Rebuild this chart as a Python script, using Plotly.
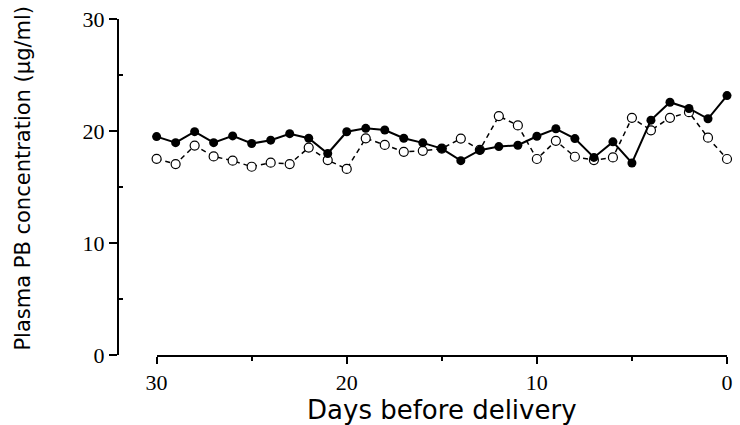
import plotly.graph_objects as go

days = list(range(30, -1, -1))
filled = [19.5, 18.96, 19.94, 18.96, 19.56, 18.88, 19.18, 19.76, 19.35, 17.99,
          19.93, 20.24, 20.09, 19.35, 18.94, 18.43, 17.35, 18.29, 18.61, 18.73,
          19.53, 20.2, 19.32, 17.64, 19.03, 17.14, 20.97, 22.57, 22.01, 21.09, 23.16]
opened = [17.52, 17.05, 18.7, 17.73, 17.35, 16.81, 17.17, 17.05, 18.52, 17.4,
          16.61, 19.35, 18.76, 18.14, 18.23, 18.43, 19.32, 18.32, 21.33, 20.5,
          17.5, 19.12, 17.7, 17.4, 17.64, 21.18, 20.06, 21.18, 21.68, 19.4, 17.5]
y_title = "Plasma PB concentration (μg/ml)"
x_title = "Days before delivery"

fig = go.Figure()
fig.add_trace(go.Scatter(
    x=days, y=opened, mode="lines+markers",
    line=dict(color="black", width=1.5, dash="5px,4px"),
    marker=dict(symbol="circle", size=9, color="white", line=dict(color="black", width=1.2)),
    cliponaxis=False, showlegend=False))
fig.add_trace(go.Scatter(
    x=days, y=filled, mode="lines+markers",
    line=dict(color="black", width=2),
    marker=dict(symbol="circle", size=9, color="black"),
    cliponaxis=False, showlegend=False))

tickfont = dict(family="Liberation Serif", size=22, color="black")
fig.update_layout(
    width=740, height=425,
    margin=dict(l=118, r=7, t=15, b=69),
    paper_bgcolor="white", plot_bgcolor="white",
    xaxis=dict(
        domain=[0.0634, 1], range=[30, 0], autorange=False,
        tickvals=[30, 20, 10, 0], ticks="outside", ticklen=7, tickwidth=2,
        minor=dict(tickvals=[25, 15, 5], ticks="outside", ticklen=4, tickwidth=1.5, tickcolor="black"),
        showline=True, linecolor="black", linewidth=2, tickcolor="black",
        showgrid=False, zeroline=False, tickfont=tickfont,
        title=dict(text=x_title, standoff=4,
                   font=dict(family="DejaVu Sans", size=26, color="black")),
    ),
    yaxis=dict(
        anchor="free", position=0, range=[0, 30], autorange=False,
        tickvals=[0, 10, 20, 30], ticks="outside", ticklen=8, tickwidth=2,
        minor=dict(tickvals=[5, 15, 25], ticks="inside", ticklen=4, tickwidth=1.5, tickcolor="black"),
        showline=True, linecolor="black", linewidth=2, tickcolor="black",
        showgrid=False, zeroline=False, tickfont=tickfont,
    ),
    annotations=[dict(
        text=y_title, textangle=-90, showarrow=False,
        xref="paper", yref="paper", x=-(118 - 22) / 615, y=(356 - 176) / 341,
        xanchor="center", yanchor="middle",
        font=dict(family="DejaVu Sans", size=21, color="black"))],
)

fig.write_html("out.html", config={"displayModeBar": False},
               post_script="document.body.style.margin='0';document.body.style.overflow='hidden';")
